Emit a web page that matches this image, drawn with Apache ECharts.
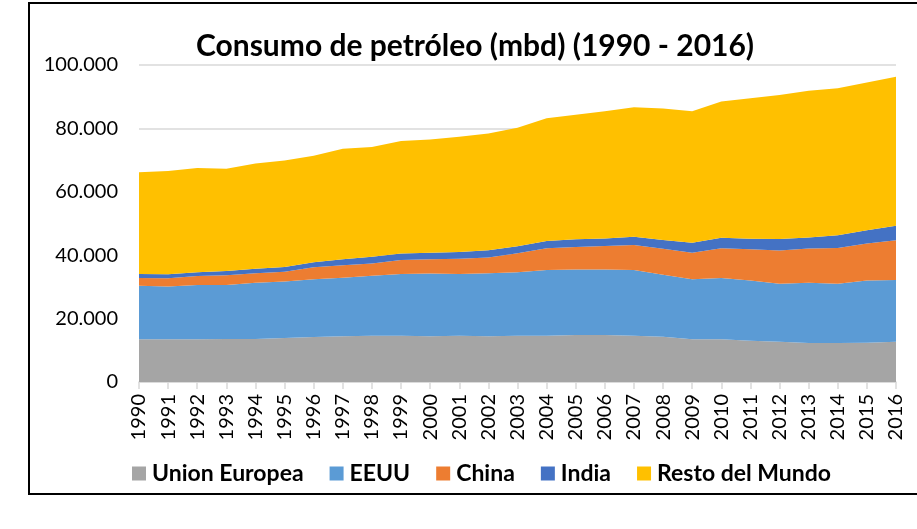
<!DOCTYPE html>
<html>
<head>
<meta charset="utf-8">
<script src="https://cdn.jsdelivr.net/npm/echarts@6/dist/echarts.min.js"></script>
<style>
html,body{margin:0;padding:0;background:#fff;}
#chart{width:917px;height:529px;}
</style>
</head>
<body>
<div id="chart"></div>
<script>
const years = ['1990','1991','1992','1993','1994','1995','1996','1997','1998','1999','2000','2001','2002','2003','2004','2005','2006','2007','2008','2009','2010','2011','2012','2013','2014','2015','2016'];
const unionEuropea = [13500,13500,13500,13600,13600,13900,14200,14400,14600,14600,14400,14600,14400,14600,14600,14800,14800,14600,14300,13500,13500,13000,12700,12300,12300,12400,12700];
const eeuu = [16900,16600,17100,17000,17700,17800,18200,18500,18900,19500,19800,19500,19900,20000,20700,20700,20700,20700,19500,18900,19300,19000,18300,19000,18700,19600,19500];
const china = [2400,2600,2800,3100,3000,3100,3800,3900,3900,4400,4500,4800,5000,6000,6900,7100,7400,7900,8200,8400,9400,9900,10500,10800,11300,11700,12500];
const india = [1300,1300,1200,1300,1400,1500,1600,1900,2100,2000,2100,2100,2300,2200,2300,2400,2400,2600,2800,3100,3300,3300,3600,3500,4000,4200,4600];
const restoMundo = [32100,32600,32900,32300,33200,33600,33600,34900,34600,35500,35700,36400,36800,37400,38700,39300,40100,40900,41500,41500,43000,44300,45400,46300,46400,46600,47000];
const seriesNames = ['Union Europea','EEUU','China','India','Resto del Mundo'];
const yTicks = [0,20000,40000,60000,80000,100000];

const chart = echarts.init(document.getElementById('chart'), null, {renderer:'canvas'});
const colors = ['#A5A5A5','#5B9BD5','#ED7D31','#4472C4','#FFC000'];
const dataSets = [unionEuropea, eeuu, china, india, restoMundo];
const fmt = v => v === 0 ? '0' : String(v).replace(/\B(?=(\d{3})+(?!\d))/g, '.');

chart.setOption({
  animation:false,
  color: colors,
  title:{
    text:'Consumo de petróleo (mbd) (1990 - 2016)',
    left:196, top:31, padding:0,
    textStyle:{fontFamily:'Lato', fontWeight:'bold', fontSize:30, color:'#000'}
  },
  graphic:[{
    type:'rect', shape:{x:29, y:3, width:920, height:491},
    style:{fill:'none', stroke:'#000', lineWidth:2}, silent:true, z:100
  }],
  legend:{
    data: seriesNames,
    left:132, top:462, padding:0,
    icon:'rect', itemWidth:14, itemHeight:14, itemGap:26,
    textStyle:{fontFamily:'Lato', fontWeight:'bold', fontSize:23, color:'#000', padding:[0,0,0,1]}
  },
  grid:{left:139, right:21, top:65, bottom:147, containLabel:false, outerBoundsMode:'none'},
  xAxis:{
    type:'category', data: years, boundaryGap:false,
    axisLine:{lineStyle:{color:'#d9d9d9', width:1.5}},
    axisTick:{show:true, length:7, lineStyle:{color:'#d9d9d9', width:1.5}},
    axisLabel:{rotate:90, margin:12, fontFamily:'Lato', fontSize:20, color:'#000', interval:0},
    splitLine:{show:false}
  },
  yAxis:{
    type:'value', min:0, max:100000, interval:20000,
    axisLine:{show:false}, axisTick:{show:false},
    axisLabel:{formatter:fmt, margin:21, fontFamily:'Lato', fontSize:20, color:'#000'},
    splitLine:{lineStyle:{color:'#d9d9d9', width:1.5}}
  },
  series: seriesNames.map((n,i)=>({
    name:n, type:'line', stack:'total', data: dataSets[i],
    symbol:'none', showSymbol:false,
    lineStyle:{width:0},
    areaStyle:{color:colors[i], opacity:1},
    itemStyle:{color:colors[i]}
  }))
});
</script>
</body>
</html>
